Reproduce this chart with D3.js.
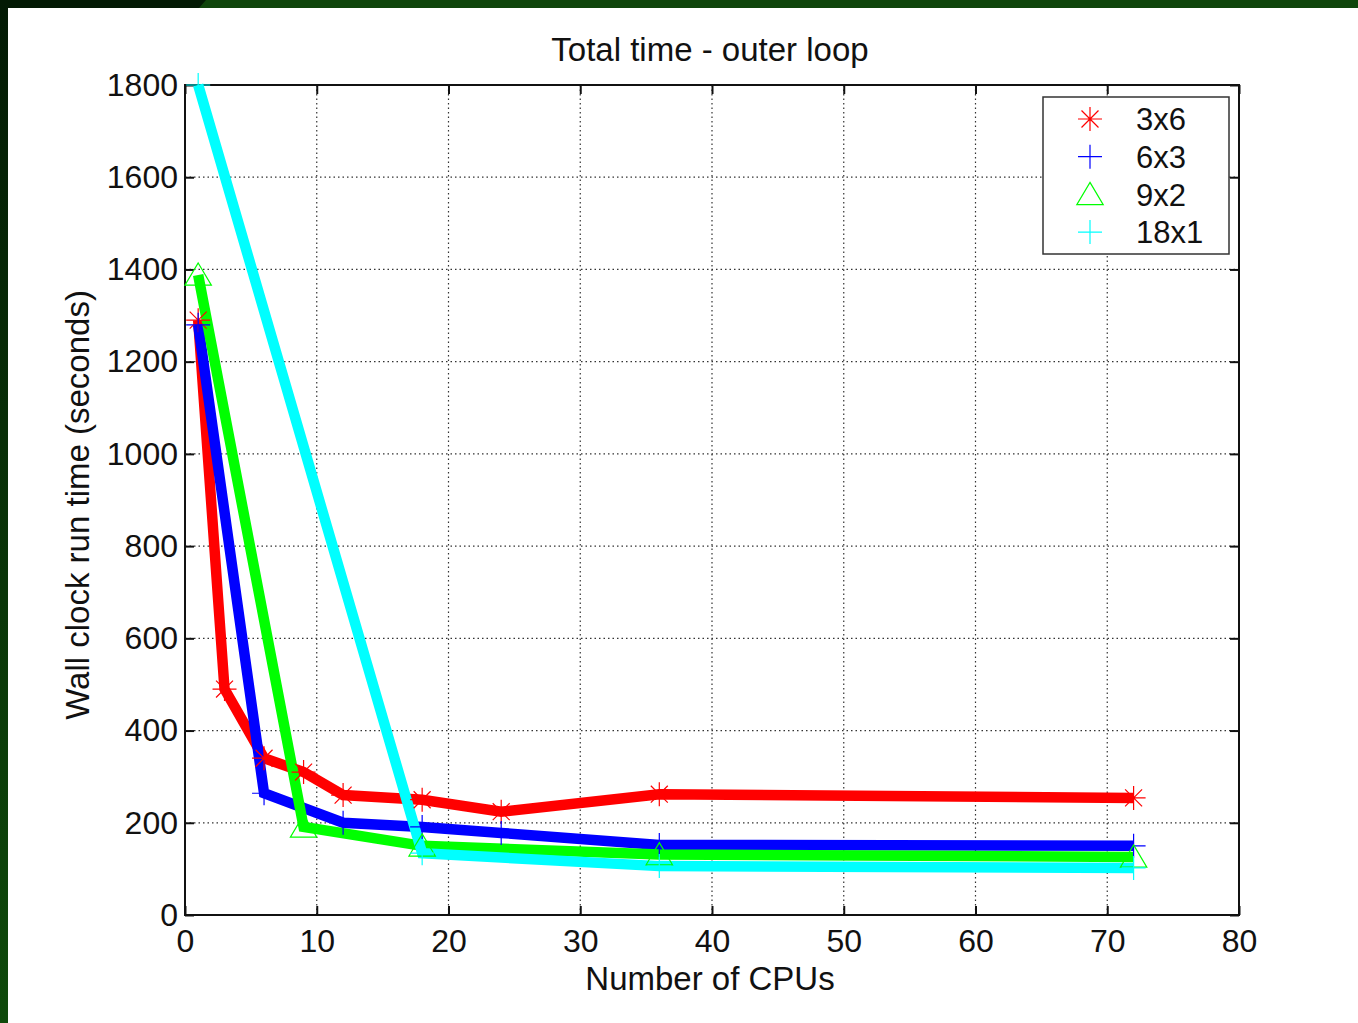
<!DOCTYPE html>
<html>
<head>
<meta charset="utf-8">
<script src="https://cdn.jsdelivr.net/npm/d3@7"></script>
<style>
  html, body { margin: 0; padding: 0; background: #fff; }
  svg { display: block; }
  text { font-family: "Liberation Sans", Arial, sans-serif; fill: #111; }
</style>
</head>
<body>
<svg id="chart" width="1358" height="1023"></svg>
<script>
// ---- data ----
const title = "Total time - outer loop";
const xLabel = "Number of CPUs";
const yLabel = "Wall clock run time (seconds)";
const xTicks = [0, 10, 20, 30, 40, 50, 60, 70, 80];
const yTicks = [0, 200, 400, 600, 800, 1000, 1200, 1400, 1600, 1800];
const seriesNames = ["3x6", "6x3", "9x2", "18x1"];
const seriesColors = ["#ff0000", "#0000ff", "#00ff00", "#00ffff"];
const seriesMarkers = ["asterisk", "plus", "triangle", "plus"];
const cpus3x6 = [1, 3, 6, 9, 12, 18, 24, 36, 72];
const time3x6 = [1290, 490, 340, 310, 260, 250, 224, 262, 254];
const cpus6x3 = [1, 6, 12, 18, 24, 36, 72];
const time6x3 = [1280, 264, 200, 191, 178, 152, 150];
const cpus9x2 = [1, 9, 18, 36, 72];
const time9x2 = [1388, 191, 150, 131, 126];
const cpus18x1 = [1, 18, 36, 72];
const time18x1 = [1800, 134, 106, 102];

const seriesX = [cpus3x6, cpus6x3, cpus9x2, cpus18x1];
const seriesY = [time3x6, time6x3, time9x2, time18x1];

(function () {
// ---- layout ----
const svg = d3.select("#chart");
const W = 1358, H = 1023;
const pl = 185, pr = 1239, pt = 85, pb = 915;

// background frame (slide border)
const defs = svg.append("defs");
const grad = defs.append("linearGradient").attr("id", "leftGrad")
  .attr("x1", 0).attr("y1", 0).attr("x2", 0).attr("y2", 1);
grad.append("stop").attr("offset", "0%").attr("stop-color", "#031a04");
grad.append("stop").attr("offset", "100%").attr("stop-color", "#0f4a0b");
svg.append("rect").attr("width", W).attr("height", H).attr("fill", "#fff");
svg.append("rect").attr("x", 0).attr("y", 0).attr("width", W).attr("height", 8).attr("fill", "#0f450b");
svg.append("polygon").attr("points", "0,0 206,0 199,8 0,8").attr("fill", "#031a04");
svg.append("rect").attr("x", 0).attr("y", 0).attr("width", 8).attr("height", H).attr("fill", "url(#leftGrad)");

const x = d3.scaleLinear().domain([0, 80]).range([pl, pr]);
const y = d3.scaleLinear().domain([0, 1800]).range([pb, pt]);

// grid
const grid = svg.append("g").attr("stroke", "#333").attr("stroke-width", 1.2)
  .attr("stroke-dasharray", "1.5,3");
grid.selectAll("line.gx").data(xTicks.slice(1, -1)).join("line").attr("class", "gx")
  .attr("x1", d => x(d)).attr("x2", d => x(d)).attr("y1", pt).attr("y2", pb);
grid.selectAll("line.gy").data(yTicks.slice(1, -1)).join("line").attr("class", "gy")
  .attr("y1", d => y(d)).attr("y2", d => y(d)).attr("x1", pl).attr("x2", pr);

// axes
const fs = 32;
const gB = svg.append("g").attr("transform", `translate(0,${pb})`)
  .call(d3.axisBottom(x).tickValues(xTicks).tickSize(-9).tickPadding(14).tickFormat(d3.format("d")));
const gT = svg.append("g").attr("transform", `translate(0,${pt})`)
  .call(d3.axisTop(x).tickValues(xTicks).tickSize(-9).tickFormat(""));
const gL = svg.append("g").attr("transform", `translate(${pl},0)`)
  .call(d3.axisLeft(y).tickValues(yTicks).tickSize(-9).tickPadding(7).tickFormat(d3.format("d")));
const gR = svg.append("g").attr("transform", `translate(${pr},0)`)
  .call(d3.axisRight(y).tickValues(yTicks).tickSize(-9).tickFormat(""));
[gB, gT, gL, gR].forEach(g => {
  g.select(".domain").remove();
  g.selectAll(".tick line").attr("stroke", "#111").attr("stroke-width", 2);
  g.selectAll("text").attr("font-size", fs).attr("font-family", "Liberation Sans, Arial, sans-serif").attr("fill", "#111");
});
svg.append("rect").attr("x", pl).attr("y", pt).attr("width", pr - pl).attr("height", pb - pt)
  .attr("fill", "none").attr("stroke", "#111").attr("stroke-width", 2);

// markers
function markerPath(type, r) {
  if (type === "plus") return `M${-r},0H${r}M0,${-r}V${r}`;
  if (type === "asterisk") {
    const a = r * 0.707;
    return `M${-r},0H${r}M0,${-r}V${r}M${-a},${-a}L${a},${a}M${-a},${a}L${a},${-a}`;
  }
  if (type === "triangle") return `M0,${-r}L${r * 1.1},${r * 0.85}L${-r * 1.1},${r * 0.85}Z`;
  return "";
}

// lines
const line = d3.line().x(d => x(d[0])).y(d => y(d[1]));
seriesNames.forEach((name, i) => {
  const pts = seriesX[i].map((c, j) => [c, seriesY[i][j]]);
  svg.append("path").datum(pts).attr("d", line).attr("fill", "none")
    .attr("stroke", seriesColors[i]).attr("stroke-width", 10.5)
    .attr("stroke-linejoin", "miter").attr("stroke-linecap", "butt");
});
seriesNames.forEach((name, i) => {
  const pts = seriesX[i].map((c, j) => [c, seriesY[i][j]]);
  svg.append("g").selectAll("path").data(pts).join("path")
    .attr("transform", d => `translate(${x(d[0])},${y(d[1])})`)
    .attr("d", markerPath(seriesMarkers[i], 12))
    .attr("fill", "none").attr("stroke", seriesColors[i]).attr("stroke-width", 1.2);
});

// titles
const fsT = 33;
svg.append("text").attr("x", 710).attr("y", 61).attr("text-anchor", "middle")
  .attr("font-size", fsT).text(title);
svg.append("text").attr("x", 710).attr("y", 990).attr("text-anchor", "middle")
  .attr("font-size", fsT).text(xLabel);
svg.append("text").attr("transform", "translate(89,505) rotate(-90)").attr("text-anchor", "middle")
  .attr("font-size", fsT).text(yLabel);

// legend
const lg = svg.append("g");
lg.append("rect").attr("x", 1043).attr("y", 97).attr("width", 186).attr("height", 157)
  .attr("fill", "#fff").attr("stroke", "#333").attr("stroke-width", 1.5);
seriesNames.forEach((name, i) => {
  const cy = 119 + i * 37.7;
  lg.append("path").attr("transform", `translate(1090,${cy})`)
    .attr("d", markerPath(seriesMarkers[i], 12))
    .attr("fill", "none").attr("stroke", seriesColors[i]).attr("stroke-width", 1.2);
  lg.append("text").attr("x", 1136).attr("y", cy).attr("dy", "0.36em")
    .attr("font-size", 31).text(name);
});
})();
</script>
</body>
</html>
